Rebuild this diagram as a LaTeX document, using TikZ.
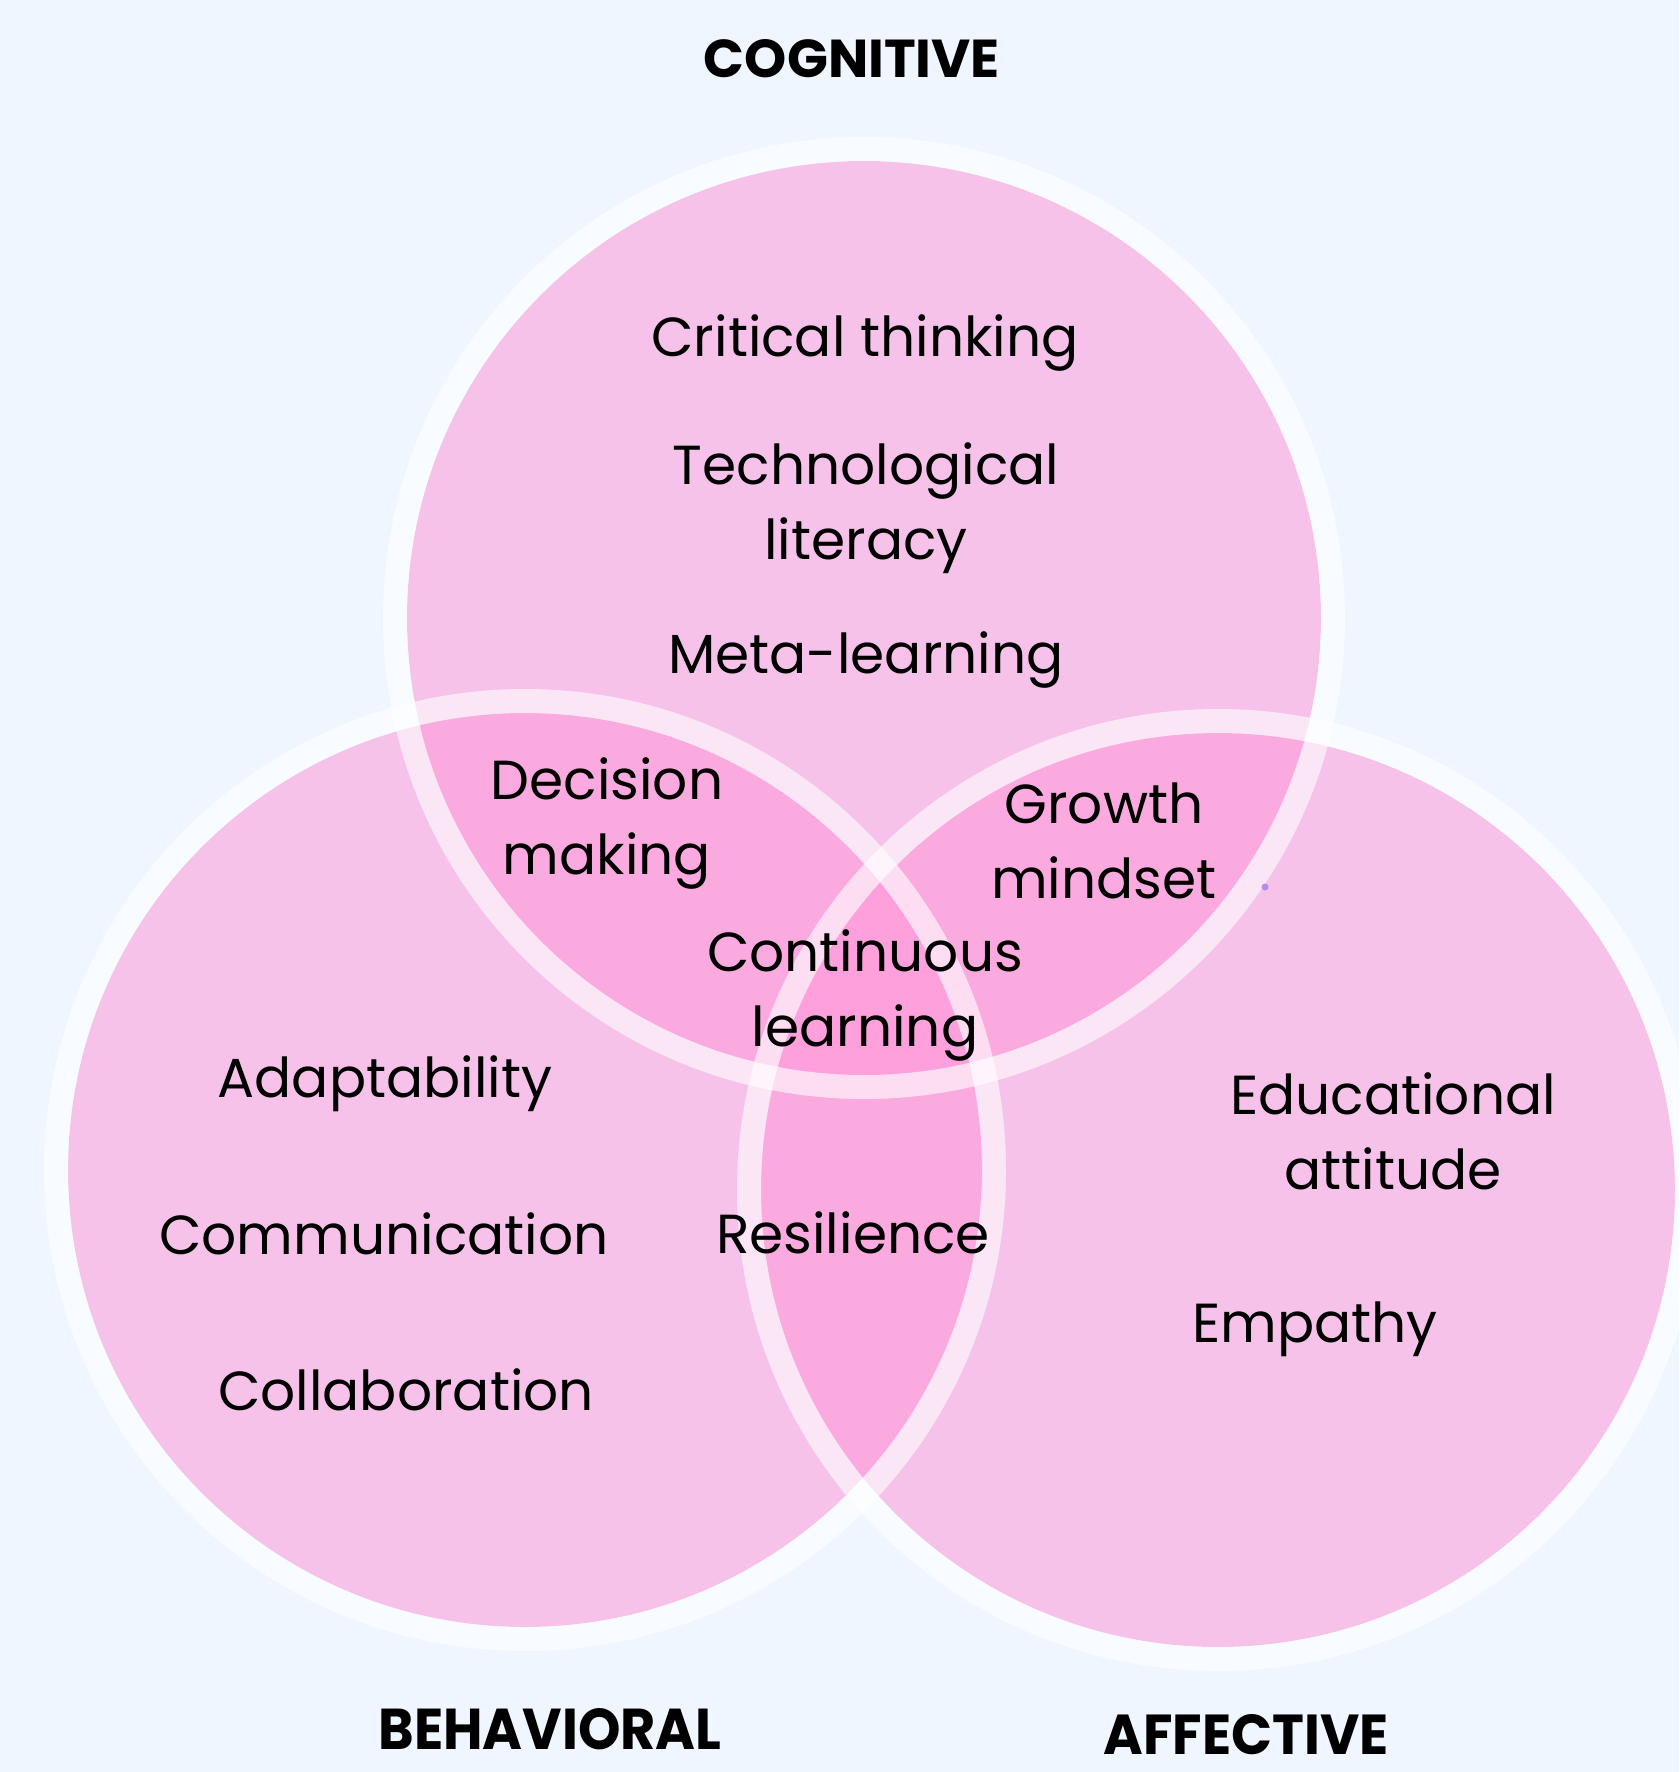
\documentclass[tikz,border=0pt]{standalone}
\usepackage{fontspec}
\setmainfont{Poppins}
\definecolor{bgc}{RGB}{239,246,255}
\definecolor{pinkc}{RGB}{255,152,217}
\definecolor{dotc}{RGB}{150,120,230}
\tikzset{
  lbl/.style={font=\fontsize{55}{75}\selectfont, align=center, text=black, inner sep=0pt},
  head/.style={font=\fontsize{55}{60}\selectfont\bfseries, text=black, inner sep=0pt},
  fillc/.style={fill=pinkc, fill opacity=0.55},
  ringst/.style={draw=white, draw opacity=0.6, line width=24pt}
}
\begin{document}
\begin{tikzpicture}[x=1pt,y=-1pt]
\useasboundingbox (0,0) rectangle (1679,1772);
\fill[bgc] (0,0) rectangle (1679,1772);
\clip (0,0) rectangle (1679,1772);
\coordinate (cC) at (864,618);
\coordinate (cB) at (525,1170);
\coordinate (cA) at (1218,1190);
% fills
\fill[fillc] (cC) circle (457);
\fill[fillc] (cB) circle (457);
\fill[fillc] (cA) circle (457);
% rings
\draw[ringst] (cC) circle (469);
\draw[ringst] (cB) circle (469);
\draw[ringst] (cA) circle (469);
% small mark
\fill[dotc, fill opacity=0.7] (1265,887) circle (3.5);
% headings
\node[head] (cog) at (852,59) {\resizebox{296pt}{38pt}{COGNITIVE}};
\node[head] (beh) at (550,1729) {\resizebox{343pt}{41pt}{BEHAVIORAL}};
\node[head] (aff) at (1246,1735) {\resizebox{285pt}{40pt}{AFFECTIVE}};
% labels
\node[lbl] (crit) at (865,343) {Critical thinking};
\node[lbl] (tech) at (866,508) {Technological\\literacy};
\node[lbl] (meta) at (866,660) {Meta-learning};
\node[lbl] (dec) at (607,823) {Decision\\making};
\node[lbl] (grow) at (1104,841) {Growth\\mindset};
\node[lbl] (cont) at (865,995) {Continuous\\learning};
\node[lbl] (res) at (853,1233) {Resilience};
\node[lbl] (adap) at (385,1084) {Adaptability};
\node[lbl] (comm) at (384,1234) {Communication};
\node[lbl] (coll) at (406,1390) {Collaboration};
\node[lbl] (edu) at (1393,1131) {Educational\\attitude};
\node[lbl] (emp) at (1315,1329) {Empathy};
\end{tikzpicture}
\end{document}
